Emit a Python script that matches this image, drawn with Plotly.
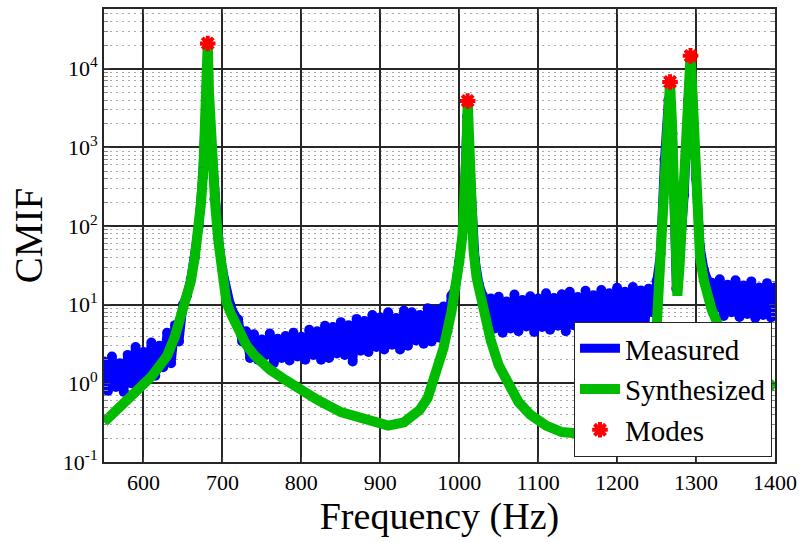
import numpy as np
import plotly.graph_objects as go

# ---------------- data ----------------
meas_freq = list(range(550, 1405, 5))
meas_vals = [
    1.9, 0.8, 2.2, 0.9, 1.8, 0.78, 2.3, 1.0, 2.9, 0.95,
    2.5, 1.15, 3.3, 1.25, 3.0, 1.6, 4.4, 1.8, 5.5, 3.4,
    10, 13, 21, 40, 100, 420, 6000, 1600, 220, 70,
    28, 15, 10, 7.5, 6.5, 3.4, 4.6, 2.1, 4.2, 2.0,
    3.6, 2.3, 4.3, 1.8, 3.7, 2.1, 4.0, 1.95, 4.4, 2.2,
    3.9, 2.0, 4.8, 2.3, 4.6, 2.0, 5.4, 2.1, 5.2, 2.4,
    6.0, 2.3, 5.5, 1.9, 6.6, 2.6, 6.2, 2.5, 7.4, 2.9,
    6.9, 2.7, 8.0, 3.1, 6.8, 2.7, 8.4, 3.0, 8.0, 3.5,
    7.4, 3.2, 9.0, 3.4, 8.6, 3.8, 9.5, 4.6, 13, 16,
    35, 90, 2500, 200, 38, 18, 13, 7.0, 12, 5.0,
    12.6, 4.4, 11, 5.0, 13.5, 4.6, 11.5, 5.3, 12.8, 4.5,
    12, 5.2, 14, 4.8, 12.2, 5.4, 13.6, 4.6, 14.6, 5.5,
    12.5, 5.0, 15, 5.6, 13.2, 4.9, 15.4, 5.5, 14, 5.1,
    16.4, 5.8, 14.6, 5.3, 16.8, 6.0, 15.2, 5.7, 16, 8.0,
    20, 45, 700, 4000, 1500, 16, 50, 250, 4000, 6000,
    400, 55, 28, 20, 19, 9.0, 21, 7.2, 18, 8.0,
    20.5, 7.0, 17.5, 7.6, 19.8, 6.8, 16.5, 7.4, 18.8, 6.9,
    16.6,
]
assert len(meas_freq) == len(meas_vals)

syn_freq = [550, 560, 570, 580, 590, 600, 610, 620, 630, 640,
            650, 655, 660, 665, 670, 673, 676, 678, 680, 681.4,
            683, 685, 688, 691, 695, 700, 705, 710, 720, 730,
            740, 750, 760, 780, 800, 820, 850, 870, 890, 910,
            930, 950, 960, 970, 980, 990, 995, 1000, 1004, 1007,
            1009, 1010.7, 1012.5, 1015, 1018, 1022, 1027, 1033, 1040, 1050,
            1060, 1075, 1090, 1110, 1130, 1150, 1170, 1190, 1210, 1225,
            1235, 1245, 1250, 1255, 1259, 1262, 1264.5, 1267, 1269.5, 1272,
            1274, 1276.3, 1279, 1282, 1285, 1288, 1290.5, 1293, 1295.5, 1298,
            1301, 1305, 1310, 1315, 1320, 1330, 1340, 1350, 1360, 1370,
            1380, 1390, 1400]
syn_vals = [0.32, 0.40, 0.49, 0.60, 0.74, 0.90, 1.22, 1.65, 2.25, 4.0,
            8.0, 12.5, 20, 40, 100, 200, 560, 1300, 6300, 21000,
            5000, 1600, 500, 180, 63, 20, 11, 8.0, 4.6, 3.1,
            2.3, 1.85, 1.5, 1.1, 0.80, 0.62, 0.43, 0.37, 0.32, 0.29,
            0.32, 0.46, 0.65, 1.25, 2.8, 8.0, 15, 35, 75, 200,
            800, 3900, 700, 180, 50, 22, 12, 6.0, 3.5, 1.7,
            1.05, 0.58, 0.40, 0.29, 0.24, 0.23, 0.25, 0.30, 0.40, 0.60,
            1.0, 2.4, 5.0, 45, 400, 1800, 3500, 6800, 2000, 250,
            50, 13, 30, 90, 250, 1600, 5000, 14600, 5000, 1800,
            300, 40, 20, 11, 8.5, 5.0, 3.8, 2.8, 2.1, 1.6,
            1.3, 1.05, 0.87]
assert len(syn_freq) == len(syn_vals)

mode_freq = [681.4, 1010.7, 1267, 1293]
mode_vals = [21000, 3900, 6800, 14600]

x_ticks = [600, 700, 800, 900, 1000, 1100, 1200, 1300, 1400]
y_ticks = [0.1, 1, 10, 100, 1000, 10000]
y_ticktext = ["10<sup>-1</sup>", "10<sup>0</sup>", "10<sup>1</sup>",
              "10<sup>2</sup>", "10<sup>3</sup>", "10<sup>4</sup>"]
y_minor = [m * 10.0 ** e for e in range(-1, 5) for m in range(2, 10)]

FONT = "Liberation Serif, 'Times New Roman', Times, serif"
DARK = "#262626"
BLUE = "#0000ff"

fig = go.Figure()
fig.add_trace(go.Scatter(x=meas_freq, y=meas_vals, mode="lines", name="Measured",
                         line=dict(color=BLUE, width=9)))
fig.add_trace(go.Scatter(x=meas_freq, y=meas_vals, mode="markers", showlegend=False,
                         marker=dict(symbol="circle", size=10, color=BLUE,
                                     line=dict(width=0))))
fig.add_trace(go.Scatter(x=syn_freq, y=syn_vals, mode="lines", name="Synthesized",
                         line=dict(color="#00bb00", width=10)))
fig.add_trace(go.Scatter(x=mode_freq, y=mode_vals, mode="markers", name="Modes",
                         marker=dict(symbol="asterisk", size=13, color="#ff0000",
                                     line=dict(color="#ff0000", width=4))))

fig.update_layout(
    width=808, height=542,
    margin=dict(l=104, r=33, t=7, b=80),
    paper_bgcolor="white", plot_bgcolor="white",
    font=dict(family=FONT, color="black", size=22),
    showlegend=True,
    hovermode=False,
    legend=dict(x=0.9955, y=0.011, xanchor="right", yanchor="bottom",
                bgcolor="white", bordercolor=DARK, borderwidth=1,
                font=dict(family=FONT, size=29), tracegroupgap=0,
                itemwidth=40),
)
fig.update_xaxes(
    range=[550, 1400], tickvals=x_ticks, ticks="inside", ticklen=5,
    showgrid=True, gridcolor=DARK, gridwidth=2,
    showline=True, linecolor=DARK, linewidth=2, mirror="ticks",
    zeroline=False,
    tickfont=dict(family=FONT, size=22),
    title=dict(text="Frequency (Hz)", font=dict(family=FONT, size=38), standoff=6),
)
fig.update_yaxes(
    type="log", range=[-1, 4.76], tickvals=y_ticks, ticktext=y_ticktext,
    ticks="inside", ticklen=6,
    showgrid=True, gridcolor=DARK, gridwidth=2,
    showline=True, linecolor=DARK, linewidth=2, mirror="ticks",
    zeroline=False,
    tickfont=dict(family=FONT, size=22),
    minor=dict(tickvals=y_minor, ticks="inside", ticklen=4, tickcolor="#888888",
               showgrid=True, gridcolor="#aaaaaa", gridwidth=1, griddash="2px,4px"),
    title=dict(text="CMIF", font=dict(family=FONT, size=39), standoff=8),
)

fig.write_html("out.html")
